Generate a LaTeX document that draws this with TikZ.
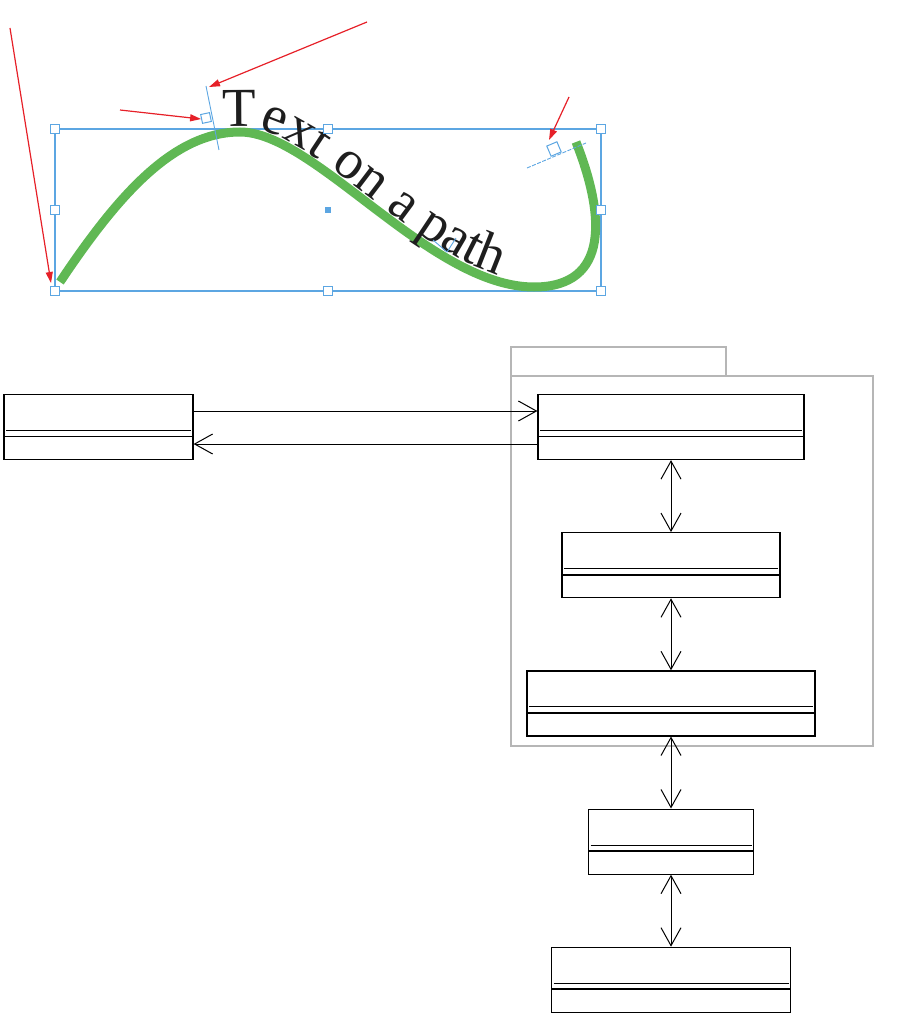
\documentclass[tikz,border=0pt]{standalone}
\usepackage{fontspec}
\setmainfont{Liberation Serif}
\usetikzlibrary{positioning,arrows.meta,decorations.text}

\definecolor{pathgreen}{RGB}{96,184,84}
\definecolor{selblue}{RGB}{92,166,226}
\definecolor{callred}{RGB}{230,32,40}
\definecolor{pkggray}{RGB}{182,182,182}
\definecolor{textgray}{RGB}{30,30,30}

% the green curve, used twice (stroke and text)
\newcommand{\wavepath}{(60,-282) .. controls (120,-192) and (175,-132) .. (240,-132) .. controls (315,-132) and (430,-287) .. (534,-287) .. controls (610,-287) and (605,-215) .. (576,-142)}

\begin{document}
\begin{tikzpicture}[
    x=1pt, y=1pt,
    handle/.style={draw=selblue, line width=1pt, fill=white, minimum size=9pt, inner sep=0pt},
    selection/.style={draw=selblue, line width=1.2pt},
    marker/.style={draw=selblue, line width=0.9pt},
    callout/.style={draw=callred, line width=1.2pt, -{Triangle[length=11pt,width=7pt]}},
    pkg/.style={draw=pkggray, line width=1.2pt},
    umlclass/.style={draw, line width=1.2pt, minimum height=65pt, inner sep=0pt,
        path picture={
            \draw[line width=0.9pt] ([xshift=2pt,yshift=-36pt]path picture bounding box.north west) -- ([xshift=-2pt,yshift=-36pt]path picture bounding box.north east);
            \draw[line width=1.7pt] ([yshift=-42pt]path picture bounding box.north west) -- ([yshift=-42pt]path picture bounding box.north east);
        }},
    assoc/.style={draw, line width=1pt, -{Straight Barb[length=18pt,width=20pt]}},
    bothways/.style={draw, line width=1pt, {Straight Barb[length=18pt,width=20pt]}-{Straight Barb[length=18pt,width=20pt]}}
]
\useasboundingbox (0,0) rectangle (902,-1032);

% selection frame
\draw[selection] (55,-129) rectangle (601,-291);

% text on the curve
\draw[pathgreen, line width=9pt] \wavepath;
\path[decorate, decoration={text along path, text color=textgray,
    text={|\fontsize{55}{55}\selectfont|Text on a path},
    raise=5.5pt, text align={left indent=226pt}}] \wavepath;

% handles
\foreach \hx/\hy/\hn in {55/129/nw, 328/129/n, 601/129/ne, 55/210/w, 601/210/e, 55/291/sw, 328/291/s, 601/291/se}
    \node[handle] (h\hn) at (\hx,-\hy) {};
\node[fill=selblue, minimum size=6pt, inner sep=0pt] (hc) at (328,-210) {};

% start and end of the text
\draw[marker] (206,-86) -- (219,-150);
\node[handle, rotate=12] (tstart) at (206,-118) {};
\draw[marker, dash pattern=on 4pt off 1.5pt] (527,-168) -- (586,-143);
\node[handle, rotate=23, minimum size=11pt] (tend) at (554,-149) {};
\draw[marker] (433,-240) -- (447,-252) -- (456,-238);

\coordinate (c1) at (10,-28);
\coordinate (c2) at (367,-22);
\coordinate (c3) at (120,-110);
\coordinate (c4) at (569,-97);
\coordinate (t1) at (51,-283);
\coordinate (t2) at (209,-87);
\coordinate (t4) at (549,-140);
\draw[callout] (c1) -- (t1);
\draw[callout] (c2) -- (t2);
\draw[callout] (c3) -- (tstart.west);
\draw[callout] (c4) -- (t4);

% package
\draw[pkg] (511,-347) rectangle (726,-376);
\draw[pkg] (511,-376) rectangle (873,-746);

% classes
\node[umlclass, minimum width=189pt] (outer) at (98.5,-427) {};
\node[umlclass, minimum width=266pt] (inner1) at (671,-427) {};
\node[umlclass, minimum width=218pt, below=72pt of inner1] (inner2) {};
\node[umlclass, minimum width=288pt, below=72pt of inner2] (inner3) {};
\node[umlclass, minimum width=165pt, below=72pt of inner3] (lower1) {};
\node[umlclass, minimum width=239pt, below=72pt of lower1] (lower2) {};

\draw[assoc] ([yshift=16pt]outer.east) -- ([yshift=16pt]inner1.west);
\draw[assoc] ([yshift=-17pt]inner1.west) -- ([yshift=-17pt]outer.east);
\draw[bothways] (inner1) -- (inner2);
\draw[bothways] (inner2) -- (inner3);
\draw[bothways] (inner3) -- (lower1);
\draw[bothways] (lower1) -- (lower2);

\end{tikzpicture}
\end{document}
